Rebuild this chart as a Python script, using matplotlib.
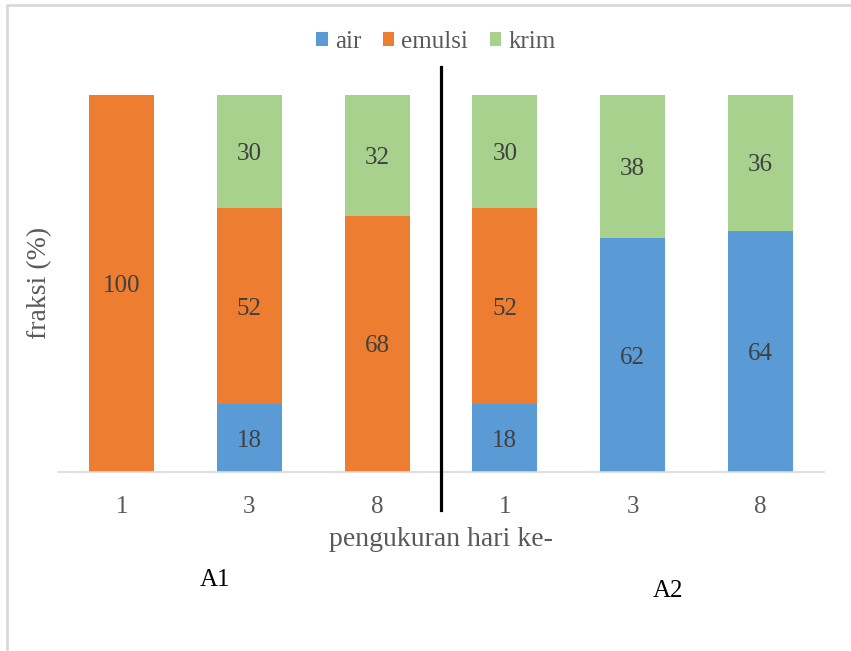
import matplotlib
matplotlib.use("Agg")
import matplotlib.pyplot as plt
from matplotlib.lines import Line2D
import numpy as np

days = ["1", "3", "8", "1", "3", "8"]
air = [0, 18, 0, 18, 62, 64]
emulsi = [100, 52, 68, 52, 0, 0]
krim = [0, 30, 32, 30, 38, 36]
series = [("air", air, "#5B9BD5"), ("emulsi", emulsi, "#ED7D31"), ("krim", krim, "#A9D18E")]
groups = ["A1", "A2"]

plt.rcParams["font.family"] = ["Liberation Serif", "DejaVu Serif"]

fig = plt.figure(figsize=(8.51, 6.51), dpi=100)
ax = fig.add_axes([58 / 851, 1 - 472 / 651, (824 - 58) / 851, (472 - 95) / 651])

x = np.arange(len(days))
bottom = np.zeros(len(days))
for name, vals, color in series:
    vals = np.array(vals, dtype=float)
    ax.bar(x, vals, width=0.51, bottom=bottom, color=color, label=name, zorder=2)
    for xi, b, v in zip(x, bottom, vals):
        if v > 0:
            ax.text(xi, b + v / 2, f"{v:g}", ha="center", va="center_baseline",
                    fontsize=18, color="#404040", zorder=3)
    bottom += vals

ax.set_xlim(-0.5, len(days) - 0.5)
ax.set_ylim(0, 100)
ax.set_xticks(x)
ax.set_xticklabels(days, fontsize=18, color="#595959")
ax.tick_params(axis="x", length=0, pad=17)
ax.set_yticks([])
for s in ["top", "right", "left"]:
    ax.spines[s].set_visible(False)
ax.spines["bottom"].set_color("#D9D9D9")
ax.spines["bottom"].set_linewidth(1.2)

fig.text(441 / 851, 1 - 537 / 651, "pengukuran hari ke-", ha="center", va="center_baseline",
         fontsize=20, color="#595959")
fig.text(40 / 851, 1 - 283 / 651, "fraksi (%)", ha="center", va="center", rotation=90,
         fontsize=20, color="#595959")

fig.legend(loc="center", bbox_to_anchor=(436 / 851, 1 - 42 / 651), ncol=3,
           frameon=False, fontsize=18, handlelength=0.45, handleheight=0.45,
           handletextpad=0.3, columnspacing=0.85, labelcolor="#595959")

# divider between the two groups
fig.add_artist(Line2D([441 / 851, 441 / 851], [1 - 67 / 651, 1 - 510 / 651],
                      color="black", linewidth=2.3, transform=fig.transFigure))

fig.text(215 / 851, 1 - 580 / 651, groups[0], ha="center", va="center", fontsize=18, color="black")
fig.text(668 / 851, 1 - 591 / 651, groups[1], ha="center", va="center", fontsize=18, color="black")

# outer frame (top and left edges)
fig.add_artist(Line2D([6.5 / 851, 6.5 / 851, 1], [0, 1 - 5 / 651, 1 - 5 / 651],
                      color="#D9D9D9", linewidth=2, transform=fig.transFigure))

fig.savefig("out.png", dpi=100)
